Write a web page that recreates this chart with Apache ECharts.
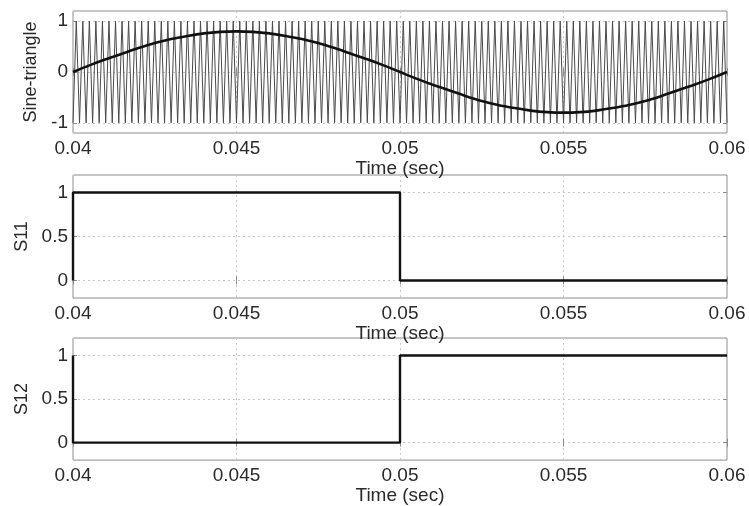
<!DOCTYPE html>
<html>
<head>
<meta charset="utf-8">
<script src="https://cdn.jsdelivr.net/npm/echarts@6/dist/echarts.min.js"></script>
<style>
  html, body { margin: 0; padding: 0; background: #fff; }
  #chart { width: 749px; height: 506px; }
</style>
</head>
<body>
<div id="chart"></div>
<script>
// x axis ticks (sec)
var timeTicks = [0.04, 0.045, 0.05, 0.055, 0.06];
// y ticks per panel
var sineTicks = [-1, 0, 1];
var switchTicks = [0, 0.5, 1];

// reference sine (read every 0.0005 s from 0.04 to 0.06)
var sineTimes = [0.04, 0.0405, 0.041, 0.0415, 0.042, 0.0425, 0.043, 0.0435, 0.044, 0.0445,
  0.045, 0.0455, 0.046, 0.0465, 0.047, 0.0475, 0.048, 0.0485, 0.049, 0.0495,
  0.05, 0.0505, 0.051, 0.0515, 0.052, 0.0525, 0.053, 0.0535, 0.054, 0.0545,
  0.055, 0.0555, 0.056, 0.0565, 0.057, 0.0575, 0.058, 0.0585, 0.059, 0.0595, 0.06];
var sineValues = [0, 0.13, 0.25, 0.36, 0.47, 0.57, 0.65, 0.71, 0.76, 0.79,
  0.8, 0.79, 0.76, 0.71, 0.65, 0.57, 0.47, 0.36, 0.25, 0.13,
  0, -0.13, -0.25, -0.36, -0.47, -0.57, -0.65, -0.71, -0.76, -0.79,
  -0.8, -0.79, -0.76, -0.71, -0.65, -0.57, -0.47, -0.36, -0.25, -0.13, 0];

// triangle carrier: about 100 cycles across the 0.02 s window, peaks at +/-1
var carrierStart = 0.04;
var carrierPeriod = 0.0002;
var carrierCycles = 100;
var carrierPeak = 1;

// switching signals (step corners)
var s11Times = [0.04, 0.04, 0.05, 0.05, 0.06];
var s11Values = [0, 1, 1, 0, 0];
var s12Times = [0.04, 0.04, 0.05, 0.05, 0.06];
var s12Values = [1, 0, 0, 1, 1];

var carrierData = [];
for (var i = 0; i <= carrierCycles; i++) {
  var t0 = carrierStart + i * carrierPeriod;
  carrierData.push([t0, -carrierPeak]);
  if (i < carrierCycles) carrierData.push([t0 + carrierPeriod / 2, carrierPeak]);
}

function zip(a, b) {
  return a.map(function (v, i) { return [v, b[i]]; });
}

var font = 'Liberation Sans, Arial, sans-serif';
var frame = '#8c8c8c';
var textColor = '#2a2a2a';
var gridLine = { show: true, lineStyle: { color: '#c8c8c8', type: [2, 3], width: 1 } };

var panels = [
  { top: 11, height: 122, min: -1.2, max: 1.2, ticks: sineTicks, name: 'Sine-triangle', nameGap: 31 },
  { top: 175, height: 123, min: -0.2, max: 1.2, ticks: switchTicks, name: 'S11', nameGap: 41 },
  { top: 338, height: 125, min: -0.2, max: 1.2, ticks: switchTicks, name: 'S12', nameGap: 41 }
];

var grids = [], xAxes = [], yAxes = [];
panels.forEach(function (p, k) {
  grids.push({ left: 73, right: 22, top: p.top, height: p.height, show: true,
    borderColor: frame, borderWidth: 1, backgroundColor: '#fff' });
  xAxes.push({
    gridIndex: k, type: 'value', min: 0.04, max: 0.06, interval: 0.005,
    name: 'Time (sec)', nameLocation: 'middle', nameGap: 24,
    nameTextStyle: { fontFamily: font, fontSize: 19, color: textColor },
    axisLine: { show: false },
    axisTick: { inside: true, length: 4, lineStyle: { color: frame } },
    axisLabel: { fontFamily: font, fontSize: 19, color: textColor, margin: 6,
      formatter: function (v) { return String(+v.toFixed(3)); } },
    splitLine: gridLine
  });
  xAxes.push({
    gridIndex: k, type: 'value', min: 0.04, max: 0.06, interval: 0.005, position: 'top',
    axisLine: { show: false }, axisLabel: { show: false }, splitLine: { show: false },
    axisTick: { inside: true, length: 4, lineStyle: { color: frame } }
  });
  yAxes.push({
    gridIndex: k, type: 'value', min: p.min, max: p.max,
    name: p.name, nameLocation: 'middle', nameGap: p.nameGap,
    nameTextStyle: { fontFamily: font, fontSize: 18, color: textColor },
    axisLine: { show: false },
    axisTick: { inside: true, length: 4, customValues: p.ticks, lineStyle: { color: frame } },
    axisLabel: { fontFamily: font, fontSize: 19, color: textColor, margin: 5, customValues: p.ticks },
    splitLine: gridLine
  });
  yAxes.push({
    gridIndex: k, type: 'value', min: p.min, max: p.max, position: 'right',
    axisLine: { show: false }, axisLabel: { show: false }, splitLine: { show: false },
    axisTick: { inside: true, length: 4, customValues: p.ticks, lineStyle: { color: frame } }
  });
});

var chart = echarts.init(document.getElementById('chart'));
chart.setOption({
  animation: false,
  backgroundColor: '#fff',
  grid: grids,
  xAxis: xAxes,
  yAxis: yAxes,
  series: [
    { type: 'line', xAxisIndex: 0, yAxisIndex: 0, data: carrierData, showSymbol: false,
      lineStyle: { color: '#4a4a4a', width: 1 } },
    { type: 'line', xAxisIndex: 0, yAxisIndex: 0, data: zip(sineTimes, sineValues), showSymbol: false,
      smooth: 0.3, lineStyle: { color: '#111', width: 2.6 } },
    { type: 'line', xAxisIndex: 2, yAxisIndex: 2, data: zip(s11Times, s11Values), showSymbol: false,
      lineStyle: { color: '#111', width: 2.4 } },
    { type: 'line', xAxisIndex: 4, yAxisIndex: 4, data: zip(s12Times, s12Values), showSymbol: false,
      lineStyle: { color: '#111', width: 2.4 } }
  ]
});
</script>
</body>
</html>
